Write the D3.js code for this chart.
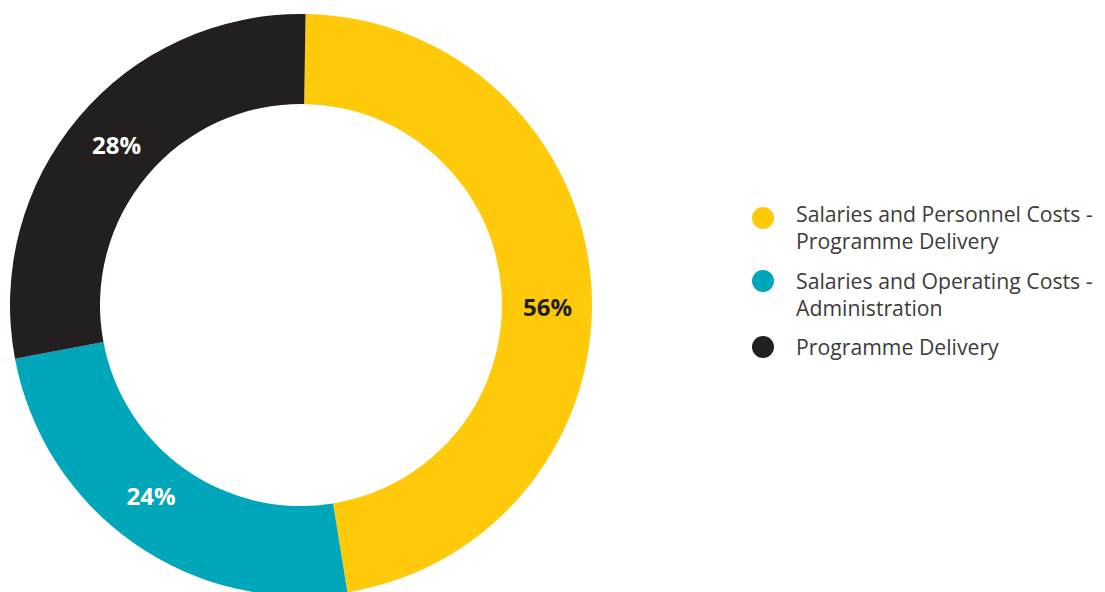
<!DOCTYPE html>
<html><head><meta charset="utf-8">
<script src="https://cdn.jsdelivr.net/npm/d3@7"></script>
<style>
html,body{margin:0;padding:0;background:#fff;}
svg{display:block;}
</style></head>
<body>
<svg id="chart" width="1105" height="592"></svg>
<script>
// Data
const categories = ["Salaries and Personnel Costs - Programme Delivery", "Salaries and Operating Costs - Administration", "Programme Delivery"];
const legendLines = [["Salaries and Personnel Costs -", "Programme Delivery"], ["Salaries and Operating Costs -", "Administration"], ["Programme Delivery"]];
const values = [47.2, 24.6, 28.2];          // arc shares as drawn in the picture
const labels = ["56%", "24%", "28%"];       // printed labels
const colors = ["#FECA0A", "#00A6B9", "#231F20"];
const labelColors = ["#231F20", "#FFFFFF", "#FFFFFF"];

const svg = d3.select("#chart");
const cx = 301, cy = 305, R = 291, r = 201;
const deg = Math.PI / 180;
const startDeg = 0.9;

const pie = d3.pie().sort(null).value(d => d).startAngle(startDeg * deg).endAngle((360 + startDeg) * deg);
const arcs = pie(values);
const arc = d3.arc().innerRadius(r).outerRadius(R);

const g = svg.append("g").attr("transform", `translate(${cx},${cy})`);
g.selectAll("path").data(arcs).enter().append("path")
  .attr("d", arc).attr("fill", (d, i) => colors[i]);

// label placement: along ring middle, with small angular nudges to match the source
const labelNudge = [4.5, 3.1, 0.9];
const labelRadius = [246.5, 242.5, 244.5];
const lbls = g.selectAll("text.lbl").data(arcs).enter().append("text")
  .attr("class", "lbl")
  .attr("x", (d, i) => labelRadius[i] * Math.sin((d.startAngle + d.endAngle) / 2 + labelNudge[i] * deg))
  .attr("y", (d, i) => -labelRadius[i] * Math.cos((d.startAngle + d.endAngle) / 2 + labelNudge[i] * deg))
  .attr("text-anchor", "middle").attr("dominant-baseline", "central")
  .attr("font-family", "'Open Sans', Lato, sans-serif").attr("font-weight", 700).attr("font-size", 24)
  .attr("fill", (d, i) => labelColors[i])
  .text((d, i) => labels[i]);

// Legend
const circleY = [218, 281, 347];
const baseY = [221.7, 289, 355];
const leg = svg.append("g");
categories.forEach((c, i) => {
  leg.append("circle").attr("cx", 763).attr("cy", circleY[i]).attr("r", 11).attr("fill", colors[i]);
  const t = leg.append("text").attr("x", 796).attr("y", baseY[i])
    .attr("font-family", "'Open Sans', Lato, sans-serif").attr("font-size", 19).attr("fill", "#3c3c3c");
  legendLines[i].forEach((ln, j) => {
    t.append("tspan").attr("x", 796).attr("dy", j === 0 ? 0 : 27).text(ln);
  });
});
// fit legend font so the first line matches the source width
const firstLine = leg.select("text tspan").node();
const w = firstLine.getComputedTextLength();
const fs = 19 * 297 / w;
leg.selectAll("text").attr("font-size", fs);
</script>
</body></html>
